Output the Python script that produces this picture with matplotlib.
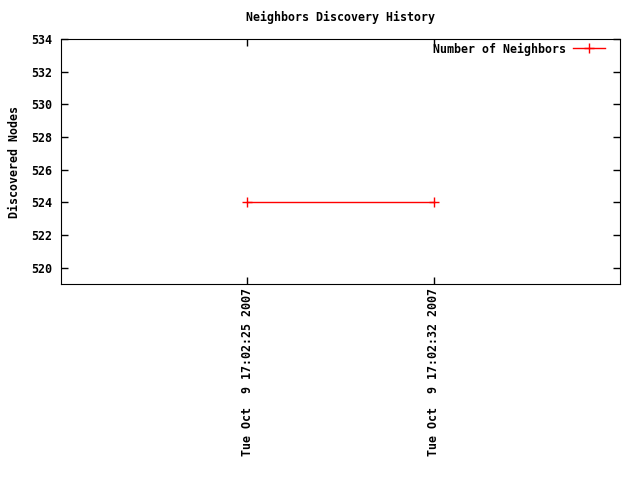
import matplotlib
matplotlib.use('Agg')
import matplotlib.pyplot as plt
import matplotlib.dates as mdates
import pandas as pd
from matplotlib.ticker import FuncFormatter, MultipleLocator

times = pd.to_datetime(["2007-10-09 17:02:25", "2007-10-09 17:02:32"])
neighbors = [524, 524]
y_min, y_max = 519, 534

FS = 8.4
plt.rcParams['font.family'] = ['DejaVu Sans Mono']
plt.rcParams['font.weight'] = 'bold'
plt.rcParams['font.size'] = FS

fig = plt.figure(figsize=(6.4, 4.8), dpi=100)
ax = fig.add_axes([61 / 640, 1 - 284 / 480, 559 / 640, 245 / 480])

x = mdates.date2num(times)
ax.plot(x, neighbors, color='red', lw=1, marker='+', ms=7, mew=1,
        label='Number of Neighbors')

span = x[-1] - x[0]
ax.set_xlim(x[0] - span, x[-1] + span)
ax.set_ylim(y_min, y_max)
ax.set_xticks(x)


def fmt_date(v, pos=None):
    d = mdates.num2date(v)
    return f"{d:%a %b} {d.day:2d} {d:%H:%M:%S %Y}"


ax.xaxis.set_major_formatter(FuncFormatter(fmt_date))
ax.yaxis.set_major_locator(MultipleLocator(2))
ax.tick_params(direction='in', length=5, width=1, top=True, right=True,
               labelsize=FS)
ax.tick_params(axis='x', labelrotation=90, pad=3)
ax.tick_params(axis='y', pad=6)
for lab in ax.get_xticklabels():
    lab.set_fontweight('bold')
for lab in ax.get_yticklabels():
    lab.set_fontweight('bold')

ax.set_title('Neighbors Discovery History', fontsize=FS, fontweight='bold', pad=13)
ax.set_ylabel('Discovered Nodes', fontsize=FS, fontweight='bold', labelpad=8)

ax.legend(loc='upper right', bbox_to_anchor=(0.974, 0.986), frameon=False,
          markerfirst=False, handlelength=2.8, handletextpad=0.6,
          borderaxespad=0, borderpad=0, prop={'weight': 'bold', 'size': FS})

fig.savefig('out.png', dpi=100)
